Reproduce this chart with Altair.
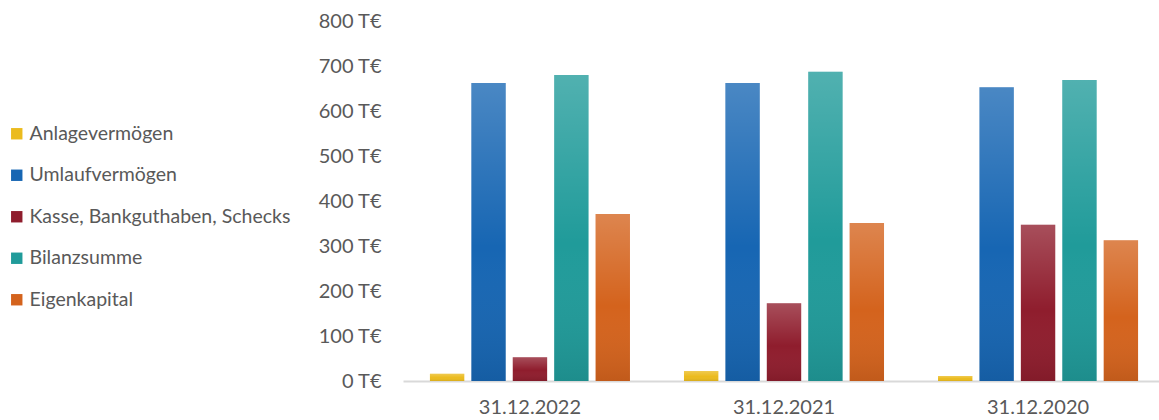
import altair as alt
import pandas as pd

# Balance sheet key figures (thousand euro) per reporting date
dates = ["31.12.2022", "31.12.2021", "31.12.2020"]
series = [
    "Anlagevermögen",
    "Umlaufvermögen",
    "Kasse, Bankguthaben, Schecks",
    "Bilanzsumme",
    "Eigenkapital",
]
anlagevermoegen = [16, 22, 11]
umlaufvermoegen = [662, 662, 653]
kasse = [53, 173, 347]
bilanzsumme = [680, 687, 669]
eigenkapital = [371, 351, 313]

colors = ["#ebbb1e", "#1766b3", "#8f1d2d", "#209b9a", "#d4631d"]
y_ticks = [0, 100, 200, 300, 400, 500, 600, 700, 800]

values = [anlagevermoegen, umlaufvermoegen, kasse, bilanzsumme, eigenkapital]
rows = []
for s, vals in zip(series, values):
    for d, v in zip(dates, vals):
        rows.append({"Datum": d, "Kennzahl": s, "Wert": v})
df = pd.DataFrame(rows)

FONT = "Lato"
TEXT = "#595959"

base = alt.Chart(df).encode(
    x=alt.X(
        "Datum:N",
        sort=dates,
        title=None,
        scale=alt.Scale(range=[0, 762], paddingInner=0.2126, paddingOuter=0.106),
        axis=alt.Axis(
            labelAngle=0,
            labelFontSize=20,
            labelFont=FONT,
            labelColor=TEXT,
            labelPadding=16,
            ticks=False,
            domainColor="#d9d9d9",
            domainWidth=2,
        ),
    ),
    xOffset=alt.XOffset(
        "Kennzahl:N",
        sort=series,
        scale=alt.Scale(domain=series, paddingInner=0.17, paddingOuter=0),
    ),
    y=alt.Y(
        "Wert:Q",
        title=None,
        scale=alt.Scale(domain=[0, 800], nice=False),
        axis=alt.Axis(
            values=y_ticks,
            labelExpr="datum.value + ' T€'",
            labelFontSize=20,
            labelFont=FONT,
            labelColor=TEXT,
            labelPadding=22,
            ticks=False,
            domain=False,
            grid=False,
        ),
    ),
)

bars = base.mark_bar().encode(
    color=alt.Color(
        "Kennzahl:N",
        sort=series,
        scale=alt.Scale(domain=series, range=colors),
        legend=alt.Legend(
            title=None,
            orient="none",
            legendX=-396,
            legendY=103,
            symbolType="square",
            symbolSize=130,
            symbolStrokeWidth=0,
            labelFont=FONT,
            labelFontSize=19.5,
            labelColor=TEXT,
            labelOffset=3,
            rowPadding=20.5,
            padding=0,
            labelLimit=400,
        ),
    )
)

# light top / darker bottom shading on every bar
shade = base.mark_bar(
    color=alt.Gradient(
        gradient="linear",
        x1=0, x2=0, y1=0, y2=1,
        stops=[
            alt.GradientStop(offset=0, color="rgba(255,255,255,0.22)"),
            alt.GradientStop(offset=0.55, color="rgba(255,255,255,0)"),
            alt.GradientStop(offset=1, color="rgba(0,0,0,0.09)"),
        ],
    )
)

chart = (
    alt.layer(bars, shade)
    .properties(
        width=756,
        height=360,
        autosize=alt.AutoSizeParams(type="none"),
        padding={"left": 403, "top": 21, "right": 0, "bottom": 39},
        background="white",
    )
    .configure_view(stroke=None)
)

chart.save("out.html", embed_options={"renderer": "svg", "actions": False})
